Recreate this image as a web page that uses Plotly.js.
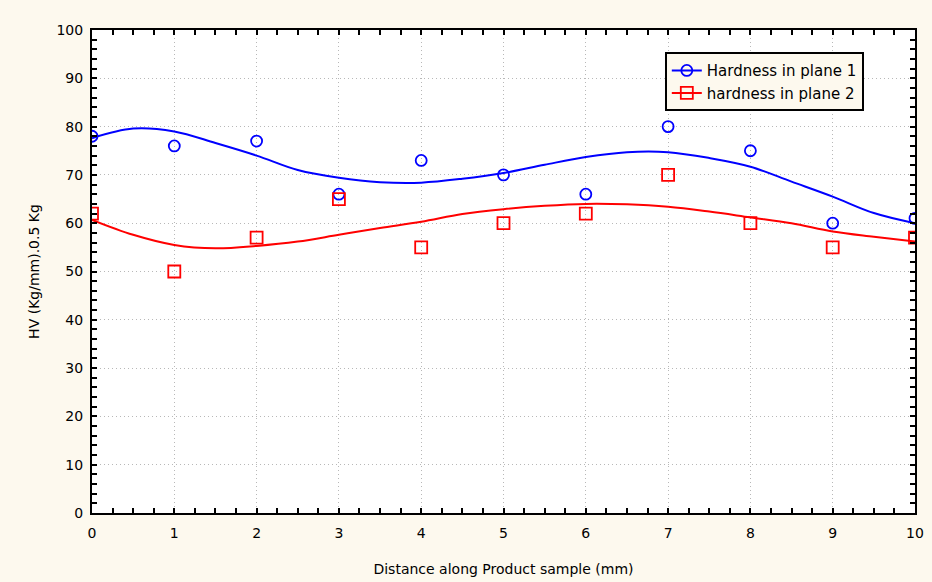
<!DOCTYPE html>
<html>
<head>
<meta charset="utf-8">
<script src="https://cdn.plot.ly/plotly-3.0.1.min.js"></script>
<style>html,body{margin:0;padding:0;background:#fdf9ee;}#chart{width:932px;height:582px;}</style>
</head>
<body>
<div id="chart"></div>
<script>
// Measured points
const distance = [0, 1, 2, 3, 4, 5, 6, 7, 8, 9, 10];
const plane1 = [78, 76, 77, 66, 73, 70, 66, 80, 75, 60, 61];
const plane2 = [62, 50, 57, 65, 55, 60, 62, 70, 60, 55, 57];

// Fitted curves
const fitX = [0, 0.5, 1, 1.5, 2, 2.5, 3, 3.5, 4, 4.5, 5, 5.5, 6, 6.5, 7, 7.5, 8, 8.5, 9, 9.5, 10];
const fit1 = [77.6, 79.6, 79.0, 76.6, 74.0, 71.0, 69.4, 68.5, 68.4, 69.2, 70.4, 72.1, 73.7, 74.7, 74.7, 73.5, 71.7, 68.6, 65.5, 62.1, 60.0];
const fit2 = [60.7, 57.6, 55.5, 54.8, 55.3, 56.2, 57.6, 59.0, 60.3, 61.9, 62.9, 63.6, 64.0, 63.9, 63.4, 62.4, 61.2, 60.0, 58.3, 57.2, 56.2];

const names = ["Hardness in plane 1", "hardness in plane 2"];
const blue = "#0000ff", red = "#ff0000";
const FONT = "DejaVu Sans, Verdana, sans-serif";

const traces = [
  {x: fitX, y: fit1, mode: "lines", line: {color: blue, width: 2, shape: "spline"}, showlegend: false, hoverinfo: "skip"},
  {x: fitX, y: fit2, mode: "lines", line: {color: red, width: 2, shape: "spline"}, showlegend: false, hoverinfo: "skip"},
  {x: distance, y: plane1, mode: "markers", name: names[0], showlegend: false, cliponaxis: true,
   marker: {symbol: "circle-open", size: 11, color: blue, line: {width: 1.8, color: blue}}},
  {x: distance, y: plane2, mode: "markers", name: names[1], showlegend: false, cliponaxis: true,
   marker: {symbol: "square-open", size: 12, color: red, line: {width: 1.8, color: red}}},
  {x: [null], y: [null], mode: "lines+markers", name: names[0], line: {color: blue, width: 2},
   marker: {symbol: "circle-open", size: 11, color: blue, line: {width: 1.8, color: blue}}},
  {x: [null], y: [null], mode: "lines+markers", name: names[1], line: {color: red, width: 2},
   marker: {symbol: "square-open", size: 12, color: red, line: {width: 1.8, color: red}}}
];

const axisCommon = {
  showline: true, linecolor: "#000", linewidth: 2, mirror: "ticks",
  ticks: "inside", ticklen: 5, tickwidth: 2, tickcolor: "#000",
  showgrid: true, gridcolor: "#b8b8b8", griddash: "1px,3px", gridwidth: 1,
  zeroline: false, tickfont: {family: FONT, size: 14, color: "#000"}
};

const layout = {
  width: 932, height: 582,
  paper_bgcolor: "#fdf9ee", plot_bgcolor: "#ffffff",
  margin: {l: 92, r: 17, t: 30, b: 69},
  font: {family: FONT, size: 14, color: "#000"},
  xaxis: Object.assign({}, axisCommon, {
    range: [0, 10], dtick: 1, tick0: 0, ticklabelstandoff: 6,
    minor: {dtick: 0.25, ticklen: 5, tickwidth: 2, tickcolor: "#000", ticks: "inside", showgrid: false},
    title: {text: "Distance along Product sample (mm)", standoff: 24, font: {family: FONT, size: 14}}
  }),
  yaxis: Object.assign({}, axisCommon, {
    range: [0, 100], dtick: 10, tick0: 0, ticklabelstandoff: 4,
    minor: {dtick: 2, ticklen: 5, tickwidth: 2, tickcolor: "#000", ticks: "inside", showgrid: false},
    title: {text: "HV (Kg/mm).0.5 Kg", standoff: 14, font: {family: FONT, size: 14}}
  }),
  legend: {
    x: 0.696, y: 0.954, xanchor: "left", yanchor: "top",
    bgcolor: "#fdf9ee", bordercolor: "#000", borderwidth: 2,
    font: {family: FONT, size: 15}, itemwidth: 30, tracegroupgap: 0
  },
  showlegend: true
};

Plotly.newPlot("chart", traces, layout, {displayModeBar: false, staticPlot: true});
</script>
</body>
</html>
